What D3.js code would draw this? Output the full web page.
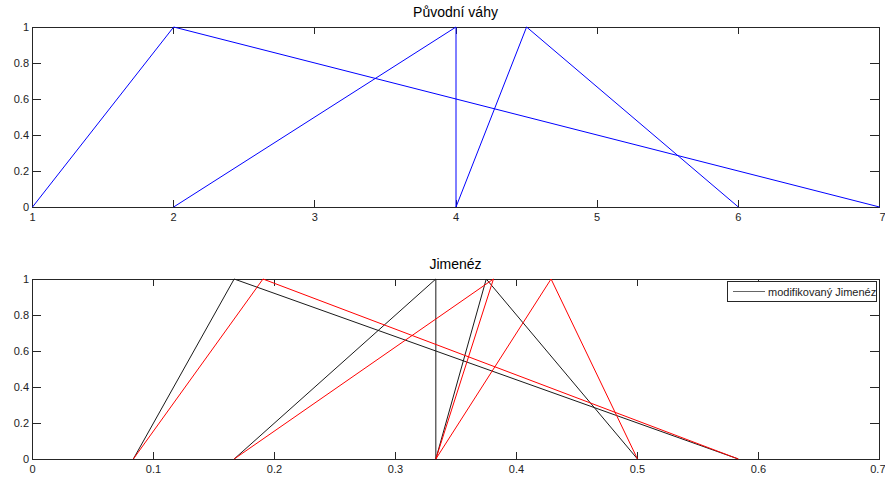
<!DOCTYPE html>
<html>
<head>
<meta charset="utf-8">
<script src="https://cdn.jsdelivr.net/npm/d3@7"></script>
<style>
  body { margin: 0; background: #fff; }
  svg { display: block; }
  text { font-family: "Liberation Sans", Arial, sans-serif; }
</style>
</head>
<body>
<svg id="chart" width="885" height="479"></svg>
<script>
// Triangular fuzzy weights: [left, peak, right] with membership 0 -> 1 -> 0
const originalWeights = [
  [1, 2, 7],
  [2, 4, 4],
  [4, 4.5, 6]
];
// Jiménez normalisation (red)
const jimenezWeights = [
  [1 / 12, 4 / 21, 7 / 12],
  [2 / 12, 8 / 21, 4 / 12],
  [4 / 12, 9 / 21, 6 / 12]
];
// Modified Jiménez normalisation (black)
const modifiedJimenezWeights = [
  [1 / 12, 2 / 12, 7 / 12],
  [2 / 12, 4 / 12, 4 / 12],
  [4 / 12, 4.5 / 12, 6 / 12]
];
const topTitle = "Původní váhy";
const bottomTitle = "Jimenéz";
const legendLabel = "modifikovaný Jimenéz";
const topXTicks = [1, 2, 3, 4, 5, 6, 7];
const bottomXTicks = [0, 0.1, 0.2, 0.3, 0.4, 0.5, 0.6, 0.7];
const yTicks = [0, 0.2, 0.4, 0.6, 0.8, 1];

const svg = d3.select("#chart");
const axisColor = "#262626";

function triangle(t) {
  return [[t[0], 0], [t[1], 1], [t[2], 0]];
}

function drawPanel(opts) {
  const { left, right, top, bottom, xDomain, xTicks, title, series } = opts;
  const x = d3.scaleLinear().domain(xDomain).range([left, right]);
  const y = d3.scaleLinear().domain([0, 1]).range([bottom, top]);
  const g = svg.append("g");

  const fmt = d => String(+d.toFixed(2));
  // axes with inward ticks on all four sides
  const xb = d3.axisBottom(x).tickValues(xTicks).tickSize(-7).tickPadding(6).tickFormat(fmt);
  const xt = d3.axisTop(x).tickValues(xTicks).tickSize(-7).tickFormat("");
  const yl = d3.axisLeft(y).tickValues(yTicks).tickSize(-9).tickPadding(3).tickFormat(fmt);
  const yr = d3.axisRight(y).tickValues(yTicks).tickSize(-9).tickFormat("");

  const axes = [
    g.append("g").attr("class", "xb").attr("transform", `translate(0,${bottom})`).call(xb),
    g.append("g").attr("transform", `translate(0,${top})`).call(xt),
    g.append("g").attr("transform", `translate(${left},0)`).call(yl),
    g.append("g").attr("transform", `translate(${right},0)`).call(yr)
  ];
  axes.forEach(a => {
    a.select(".domain").attr("stroke", axisColor).attr("shape-rendering", "crispEdges");
    a.selectAll(".tick line").attr("stroke", axisColor).attr("shape-rendering", "crispEdges");
    a.selectAll(".tick text").attr("fill", "#222").style("font-size", "11px")
      .style("font-family", "'Liberation Sans', Arial, sans-serif");
  });
  // the rightmost label sits right at the window edge
  g.select(".xb").selectAll(".tick text")
    .filter((d, i, n) => i === n.length - 1)
    .attr("text-anchor", "end").attr("x", 6);

  // data lines drawn above the tick marks (half-pixel shift gives soft vertical strokes)
  const line = d3.line().x(d => x(d[0])).y(d => y(d[1]));
  const lines = g.append("g").attr("transform", "translate(0.5,0)");
  series.forEach(s => {
    lines.append("g").selectAll("path")
      .data(s.data)
      .join("path")
      .attr("d", d => line(triangle(d)))
      .attr("fill", "none")
      .attr("stroke", s.color)
      .attr("stroke-linejoin", "bevel")
      .attr("stroke-width", 1);
  });

  g.append("text")
    .attr("x", (left + right) / 2)
    .attr("y", top - 10)
    .attr("text-anchor", "middle")
    .attr("fill", "#000")
    .style("font-size", "14px")
    .text(title);

  return { x, y, g };
}

drawPanel({
  left: 32, right: 879, top: 27, bottom: 207,
  xDomain: [1, 7], xTicks: topXTicks, title: topTitle,
  series: [{ data: originalWeights, color: "#0000ff" }]
});

const bottomPanel = drawPanel({
  left: 32, right: 879, top: 279, bottom: 459,
  xDomain: [0, 0.7], xTicks: bottomXTicks, title: bottomTitle,
  series: [
    { data: modifiedJimenezWeights, color: "#1a1a1a" },
    { data: jimenezWeights, color: "#ff0000" }
  ]
});

// legend
const lg = bottomPanel.g.append("g");
lg.append("rect")
  .attr("x", 727.5).attr("y", 281.5)
  .attr("width", 149).attr("height", 20)
  .attr("fill", "#fff").attr("stroke", axisColor);
lg.append("line")
  .attr("x1", 733).attr("x2", 765)
  .attr("y1", 291.5).attr("y2", 291.5)
  .attr("stroke", "#666");
lg.append("text")
  .attr("x", 768).attr("y", 295.5)
  .attr("fill", "#222")
  .style("font-size", "11px")
  .text(legendLabel);
</script>
</body>
</html>
